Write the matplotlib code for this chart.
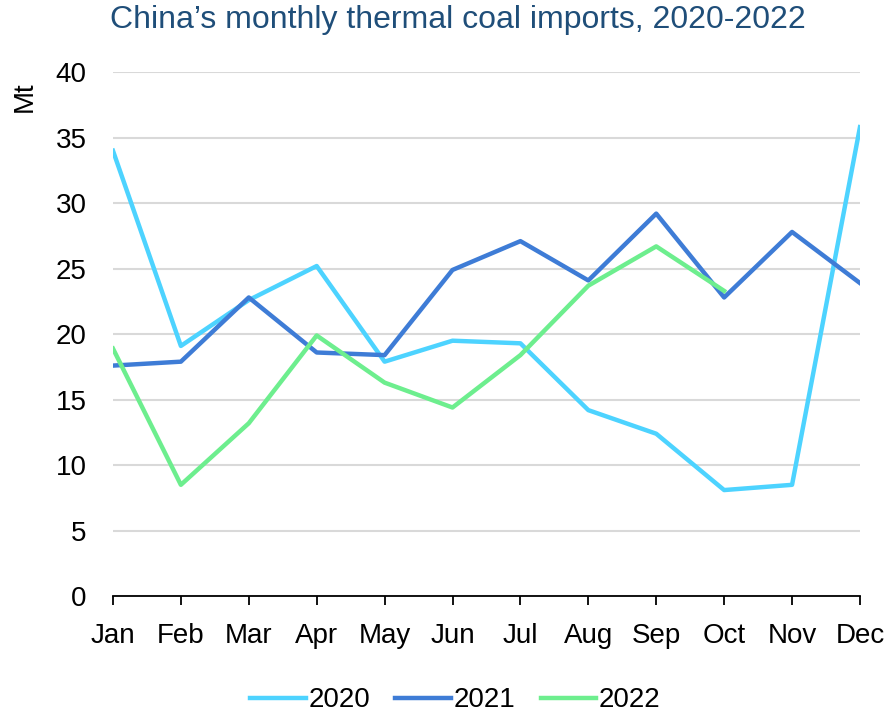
import numpy as np
import matplotlib.pyplot as plt

plt.rcParams['font.family'] = ['Liberation Sans', 'DejaVu Sans']

# Data (Mt).
months = ['Jan', 'Feb', 'Mar', 'Apr', 'May', 'Jun',
          'Jul', 'Aug', 'Sep', 'Oct', 'Nov', 'Dec']
imports_2020 = [34.0, 19.1, 22.6, 25.2, 17.9, 19.5, 19.3, 14.2, 12.4, 8.1, 8.5, 35.8]
imports_2021 = [17.6, 17.9, 22.8, 18.6, 18.4, 24.9, 27.1, 24.1, 29.2, 22.8, 27.8, 23.9]
imports_2022 = [18.9, 8.5, 13.2, 19.9, 16.3, 14.4, 18.4, 23.7, 26.7, 23.3]

fig = plt.figure(figsize=(8.93, 7.14), dpi=100)
ax = fig.add_axes([0.1265, 0.165, 0.8365, 0.734])

x = np.arange(len(months))
ax.plot(x, imports_2020, color='#4DD3FF', lw=3.2, label='2020')
ax.plot(x, imports_2021, color='#3E7CD6', lw=3.2, label='2021')
ax.plot(x[:len(imports_2022)], imports_2022, color='#6DEE8E', lw=3.2, label='2022')

ax.set_xlim(0, 11)
ax.set_ylim(0, 40)
ax.set_yticks(np.arange(0, 41, 5))
ax.set_xticks(x)
ax.set_xticklabels(months)
ax.yaxis.grid(True, color='#D9D9D9', lw=1.5)
ax.set_axisbelow(True)
for s in ['top', 'right', 'left']:
    ax.spines[s].set_visible(False)
ax.spines['bottom'].set_color('#000000')
ax.spines['bottom'].set_linewidth(1.3)
ax.tick_params(axis='y', length=0, labelsize=20, pad=19)
ax.tick_params(axis='x', length=6.5, width=1.3, color='#000000', labelsize=20, pad=13)

fig.text(0.513, 0.972, 'China\u2019s monthly thermal coal imports, 2020-2022',
         ha='center', va='center', fontsize=23, color='#1F4E79')
fig.text(0.028, 0.865, 'Mt', rotation=90, ha='center', va='center', fontsize=20)

fig.legend(loc='center', bbox_to_anchor=(0.51, 0.019), ncol=3, frameon=False,
           fontsize=20, handlelength=2.0, handletextpad=0.1, columnspacing=0.9)

fig.savefig('out.png', dpi=100)
